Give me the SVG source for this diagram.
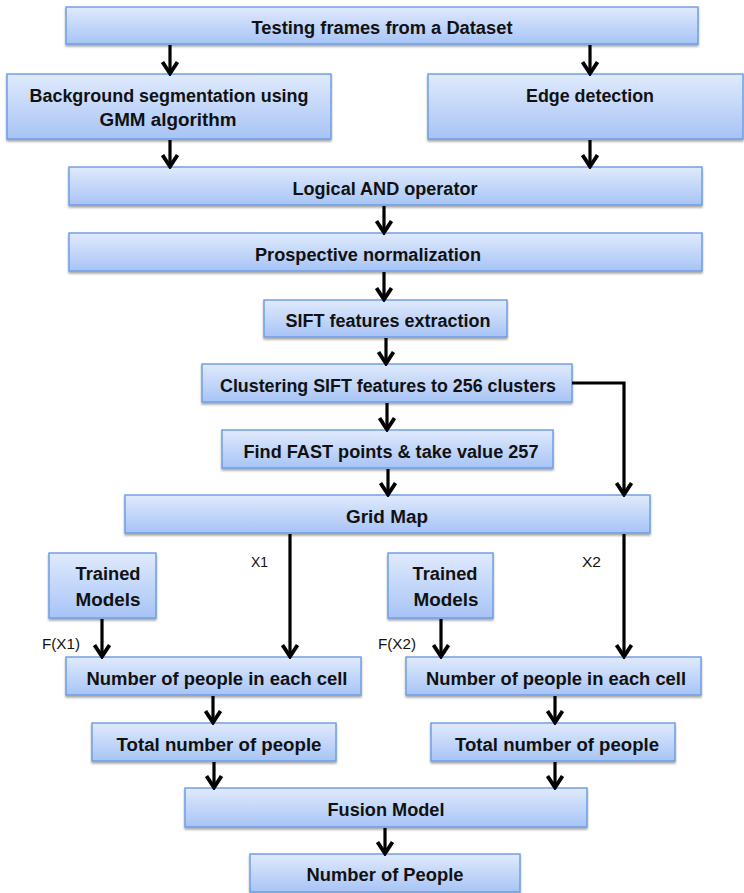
<svg xmlns="http://www.w3.org/2000/svg" width="744" height="893" viewBox="0 0 744 893">
<defs>
<linearGradient id="g" x1="0" y1="0" x2="0" y2="1">
<stop offset="0" stop-color="#e0eafc"/>
<stop offset="1" stop-color="#a7c4f6"/>
</linearGradient>
<filter id="sh" x="-5%" y="-10%" width="110%" height="130%">
<feDropShadow dx="0" dy="2" stdDeviation="1.2" flood-color="#000" flood-opacity="0.35"/>
</filter>
<marker id="ah" viewBox="0 0 16 18" refX="14" refY="9" markerWidth="16" markerHeight="18" markerUnits="userSpaceOnUse" orient="auto">
<path d="M2,1.5 L13.5,9 L2,16.5" fill="none" stroke="#000" stroke-width="3.8" stroke-linejoin="miter"/>
</marker>
</defs>
<style>
rect.b{fill:url(#g);stroke:#6a9ae4;stroke-width:1.4;filter:url(#sh)}
text.t{font-family:"Liberation Sans",Arial,sans-serif;font-weight:bold;font-size:17.5px;fill:#111;text-anchor:middle}
text.l{font-family:"Liberation Sans",Arial,sans-serif;font-size:15.5px;fill:#111}
#connectors path{fill:none;stroke:#000;stroke-width:3.2;marker-end:url(#ah)}
</style>
<rect width="744" height="893" fill="#fff"/>
<g id="n1"><rect class="b" x="66" y="7" width="632" height="37"/><text class="t" x="382" y="34" textLength="261" lengthAdjust="spacingAndGlyphs">Testing frames from a Dataset</text></g>
<g id="n2"><rect class="b" x="7" y="74" width="324" height="65"/><text class="t" x="169" y="102" textLength="279" lengthAdjust="spacingAndGlyphs">Background segmentation using</text><text class="t" x="168" y="126" textLength="137" lengthAdjust="spacingAndGlyphs">GMM algorithm</text></g>
<g id="n3"><rect class="b" x="428" y="74" width="315" height="65"/><text class="t" x="590" y="102" textLength="128" lengthAdjust="spacingAndGlyphs">Edge detection</text></g>
<g id="n4"><rect class="b" x="69" y="167" width="633" height="38"/><text class="t" x="385" y="195" textLength="185" lengthAdjust="spacingAndGlyphs">Logical AND operator</text></g>
<g id="n5"><rect class="b" x="69" y="233" width="633" height="38"/><text class="t" x="368" y="261" textLength="226" lengthAdjust="spacingAndGlyphs">Prospective normalization</text></g>
<g id="n6"><rect class="b" x="264" y="300" width="243" height="37"/><text class="t" x="388" y="327" textLength="205" lengthAdjust="spacingAndGlyphs">SIFT features extraction</text></g>
<g id="n7"><rect class="b" x="202" y="364" width="370" height="38"/><text class="t" x="388" y="392" textLength="336" lengthAdjust="spacingAndGlyphs">Clustering SIFT features to 256 clusters</text></g>
<g id="n8"><rect class="b" x="222" y="430" width="331" height="38"/><text class="t" x="391" y="458" textLength="295" lengthAdjust="spacingAndGlyphs">Find FAST points &amp; take value 257</text></g>
<g id="n9"><rect class="b" x="125" y="495" width="525" height="38"/><text class="t" x="387" y="523" textLength="82" lengthAdjust="spacingAndGlyphs">Grid Map</text></g>
<g id="n10"><rect class="b" x="49" y="553" width="107" height="65"/><text class="t" x="108" y="580" textLength="65" lengthAdjust="spacingAndGlyphs">Trained</text><text class="t" x="108" y="606" textLength="65" lengthAdjust="spacingAndGlyphs">Models</text></g>
<g id="n11"><rect class="b" x="388" y="553" width="105" height="65"/><text class="t" x="445" y="580" textLength="65" lengthAdjust="spacingAndGlyphs">Trained</text><text class="t" x="446" y="606" textLength="65" lengthAdjust="spacingAndGlyphs">Models</text></g>
<g id="n12"><rect class="b" x="66" y="657" width="295" height="38"/><text class="t" x="217" y="685" textLength="261" lengthAdjust="spacingAndGlyphs">Number of people in each cell</text></g>
<g id="n13"><rect class="b" x="406" y="657" width="295" height="38"/><text class="t" x="556" y="685" textLength="260" lengthAdjust="spacingAndGlyphs">Number of people in each cell</text></g>
<g id="n14"><rect class="b" x="92" y="723" width="244" height="38"/><text class="t" x="219" y="751" textLength="205" lengthAdjust="spacingAndGlyphs">Total number of people</text></g>
<g id="n15"><rect class="b" x="431" y="723" width="244" height="38"/><text class="t" x="557" y="751" textLength="204" lengthAdjust="spacingAndGlyphs">Total number of people</text></g>
<g id="n16"><rect class="b" x="185" y="788" width="402" height="39"/><text class="t" x="386" y="816" textLength="117" lengthAdjust="spacingAndGlyphs">Fusion Model</text></g>
<g id="n17"><rect class="b" x="250" y="854" width="270" height="38"/><text class="t" x="385" y="881" textLength="157" lengthAdjust="spacingAndGlyphs">Number of People</text></g>
<g id="connectors">
<path d="M170,45 V74"/>
<path d="M590,45 V74"/>
<path d="M170,140 V167"/>
<path d="M590,140 V167"/>
<path d="M384,206 V233"/>
<path d="M384,272 V300"/>
<path d="M386,338 V364"/>
<path d="M572,383 H624 V495"/>
<path d="M387,403 V430"/>
<path d="M388,469 V495"/>
<path d="M290,534 V657"/>
<path d="M624,534 V657"/>
<path d="M102,619 V657"/>
<path d="M441,619 V657"/>
<path d="M213,696 V723"/>
<path d="M555,696 V723"/>
<path d="M214,762 V788"/>
<path d="M555,762 V788"/>
<path d="M385,828 V854"/>
</g>
<g id="labels">
<text class="l" x="251" y="567" textLength="17" lengthAdjust="spacingAndGlyphs">X1</text>
<text class="l" x="582" y="567" textLength="19" lengthAdjust="spacingAndGlyphs">X2</text>
<text class="l" x="42" y="649" textLength="38" lengthAdjust="spacingAndGlyphs">F(X1)</text>
<text class="l" x="378" y="649" textLength="38" lengthAdjust="spacingAndGlyphs">F(X2)</text>
</g>
</svg>
